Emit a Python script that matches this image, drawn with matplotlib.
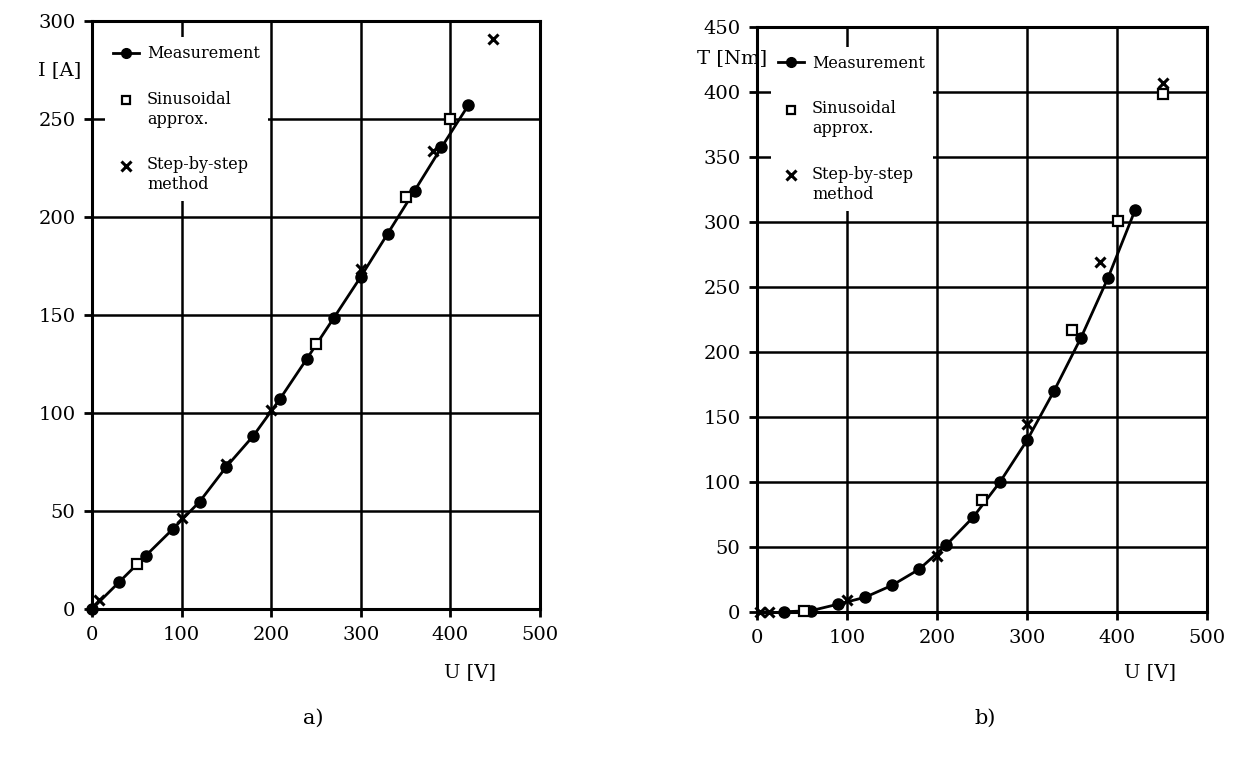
import matplotlib
matplotlib.use('Agg')
import matplotlib.pyplot as plt
from matplotlib.lines import Line2D

# ---------------- data ----------------
# Panel a) current vs voltage
a_meas_U = [0, 30, 60, 90, 120, 150, 180, 210, 240, 270, 300, 330, 360, 390, 420]
a_meas_I = [0, 13.6, 27.2, 40.7, 54.7, 72.6, 88.3, 107.3, 127.8, 148.6, 169.5, 191.5, 213.4, 235.5, 257]
a_sin_U = [50, 250, 350, 400]
a_sin_I = [22.8, 135, 210.4, 250]
a_step_U = [8, 100, 150, 200, 300, 381, 448]
a_step_I = [4.6, 46.3, 74, 101.5, 173.5, 233.7, 290.7]

# Panel b) torque vs voltage
b_meas_U = [30, 60, 90, 120, 150, 180, 210, 240, 270, 300, 330, 360, 390, 420]
b_meas_T = [0.2, 1, 6, 11.3, 20.5, 32.8, 51.3, 72.8, 100, 132, 170, 211, 257, 309]
b_sin_U = [52, 250, 350, 401, 451]
b_sin_T = [1, 86, 217, 301, 398.5]
b_step_U = [3, 13, 100, 200, 300, 381, 451]
b_step_T = [0, 0, 9.2, 43.3, 145, 269, 407]

x_ticks = [0, 100, 200, 300, 400, 500]
a_y_ticks = [0, 50, 100, 150, 200, 250, 300]
b_y_ticks = [0, 50, 100, 150, 200, 250, 300, 350, 400, 450]

# leading blank line keeps the key beside the first text line
legend_labels = ["Measurement", " \nSinusoidal\napprox.", " \nStep-by-step\nmethod"]

# ---------------- style ----------------
plt.rcParams['font.family'] = ['DejaVu Serif']
FS_TICK = 14
FS_LAB = 14
FS_LEG = 11.5

W, H = 1236, 759
fig = plt.figure(figsize=(W / 100, H / 100), dpi=100)


def px_axes(x0, y0, x1, y1):
    return fig.add_axes([x0 / W, 1 - y1 / H, (x1 - x0) / W, (y1 - y0) / H])


def style(ax, yticks, ymax):
    ax.set_xlim(0, 500)
    ax.set_ylim(0, ymax)
    ax.set_xticks(x_ticks)
    ax.set_yticks(yticks)
    ax.grid(True, color='black', lw=1.8)
    ax.set_axisbelow(True)
    for s in ax.spines.values():
        s.set_linewidth(2.2)
    ax.tick_params(direction='out', length=6, width=2, labelsize=FS_TICK, pad=6)


def draw(ax, mU, mV, sU, sV, xU, xV):
    ax.plot(mU, mV, color='black', lw=2, marker='o', ms=8, mfc='black', mec='black',
            zorder=3, clip_on=False)
    ax.plot(sU, sV, ls='none', marker='s', ms=6.5, mfc='white', mec='black', mew=1.6,
            zorder=4, clip_on=False)
    ax.plot(xU, xV, ls='none', marker='x', ms=7.5, color='black', mew=2.2,
            zorder=4, clip_on=False)


def legend(ax, x, y):
    handles = [
        Line2D([], [], color='black', lw=2, marker='o', ms=7),
        Line2D([], [], ls='none', marker='s', ms=6, mfc='white', mec='black', mew=1.6),
        Line2D([], [], ls='none', marker='x', ms=7, color='black', mew=2.2),
    ]
    leg = ax.legend(handles, legend_labels, loc='upper left', bbox_to_anchor=(x, y),
                    borderaxespad=0, frameon=True, fancybox=False, framealpha=1,
                    facecolor='white', edgecolor='none', fontsize=FS_LEG,
                    handlelength=1.6, handletextpad=0.5, labelspacing=0.5,
                    borderpad=0.5)
    for t in leg.get_texts():
        t.set_linespacing(1.25)
    leg.set_zorder(5)


# Panel a
axa = px_axes(92, 21, 540, 609)
style(axa, a_y_ticks, 300)
draw(axa, a_meas_U, a_meas_I, a_sin_U, a_sin_I, a_step_U, a_step_I)
legend(axa, 0.03, 0.972)
fig.text(38 / W, 1 - 70 / H, "I [A]", fontsize=FS_LAB, ha='left', va='center')
fig.text(470 / W, 1 - 672 / H, "U [V]", fontsize=FS_LAB, ha='center', va='center')
fig.text(313 / W, 1 - 718 / H, "a)", fontsize=15, ha='center', va='center')

# Panel b
axb = px_axes(757, 27, 1207, 612)
style(axb, b_y_ticks, 450)
draw(axb, b_meas_U, b_meas_T, b_sin_U, b_sin_T, b_step_U, b_step_T)
legend(axb, 0.03, 0.966)
fig.text(697 / W, 1 - 58 / H, "T [Nm]", fontsize=FS_LAB, ha='left', va='center')
fig.text(1150 / W, 1 - 672 / H, "U [V]", fontsize=FS_LAB, ha='center', va='center')
fig.text(985 / W, 1 - 718 / H, "b)", fontsize=15, ha='center', va='center')

fig.savefig('out.png', dpi=100, facecolor='white')
